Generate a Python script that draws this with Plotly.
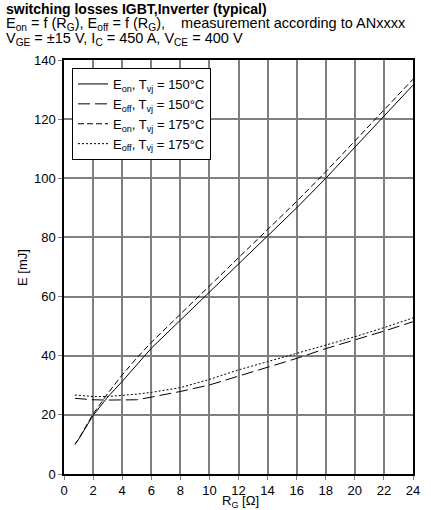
import plotly.graph_objects as go

# R_G in Ohm, E in mJ
rg_on = [0.75, 1, 2, 3, 4, 5, 6, 8, 10, 12, 14, 16, 18, 20, 22, 24]
eon_150 = [10, 11.7, 19.8, 26, 31.3, 37, 42.5, 52, 61.5, 71, 80.5, 90, 100, 110.5, 121, 131.5]
eon_175 = [10, 11.8, 20.3, 27.2, 33.5, 39.2, 44.5, 54, 63.5, 73, 82.5, 92.2, 102.2, 112.6, 123, 133.5]

rg_off = [0.75, 1, 2, 3, 4, 5, 6, 8, 10, 12, 14, 16, 18, 20, 22, 24]
eoff_150 = [25.6, 25.5, 25.1, 25, 25, 25.1, 26, 27.9, 30.1, 33.1, 36, 39.1, 42.4, 45.3, 48.3, 51.5]
eoff_175 = [26.7, 26.6, 26.2, 26.2, 26.5, 27, 27.6, 29.2, 32, 35.2, 38, 40.8, 43.6, 46.4, 49.5, 52.8]

names = ["E<sub>on</sub>, T<sub>vj</sub> = 150°C", "E<sub>off</sub>, T<sub>vj</sub> = 150°C",
         "E<sub>on</sub>, T<sub>vj</sub> = 175°C", "E<sub>off</sub>, T<sub>vj</sub> = 175°C"]

x_ticks = list(range(0, 25, 2))
y_ticks = list(range(0, 141, 20))

fig = go.Figure()
fig.add_trace(go.Scatter(x=rg_on, y=eon_150, mode="lines", name=names[0],
                         line=dict(color="black", width=1, dash="solid")))
fig.add_trace(go.Scatter(x=rg_off, y=eoff_150, mode="lines", name=names[1],
                         line=dict(color="black", width=1, dash="12px,5px")))
fig.add_trace(go.Scatter(x=rg_on, y=eon_175, mode="lines", name=names[2],
                         line=dict(color="black", width=1, dash="6px,3px")))
fig.add_trace(go.Scatter(x=rg_off, y=eoff_175, mode="lines", name=names[3],
                         line=dict(color="black", width=1, dash="2px,2px")))

L, R, T, B = 64, 18, 60, 36
pw, ph = 431 - L - R, 510 - T - B

def px(xp):
    return (xp - L) / pw

def py(yp):
    return (510 - B - yp) / ph

fam = "Liberation Sans, Arial, sans-serif"
axis_font = dict(family=fam, size=13, color="black")

fig.update_layout(
    template="none",
    width=431, height=510,
    margin=dict(l=L, r=R, t=T, b=B, pad=0),
    paper_bgcolor="white", plot_bgcolor="white",
    font=axis_font,
    showlegend=True,
    legend=dict(x=px(72), y=py(68), xanchor="left", yanchor="top",
                bgcolor="white", bordercolor="black", borderwidth=1,
                font=dict(size=13), tracegroupgap=0, itemwidth=30),
    xaxis=dict(range=[0, 24], tickvals=x_ticks, showgrid=True, gridcolor="#808080",
               gridwidth=2, showline=True, linecolor="black", linewidth=1.5,
               mirror=True, ticks="outside", ticklen=4, tickcolor="#808080",
               zeroline=False, tickfont=axis_font),
    yaxis=dict(range=[0, 140], tickvals=y_ticks, showgrid=True, gridcolor="#808080",
               gridwidth=2, showline=True, linecolor="black", linewidth=1.5,
               mirror=True, ticks="outside", ticklen=4, tickcolor="#808080",
               zeroline=False, tickfont=axis_font),
)

texts = [
    ("<b>switching losses IGBT,Inverter (typical)</b>", 9, 14),
    ("E<sub>on</sub> = f (R<sub>G</sub>), E<sub>off</sub> = f (R<sub>G</sub>),    measurement according to ANxxxx", 24, 14.5),
    ("V<sub>GE</sub> = ±15 V, I<sub>C</sub> = 450 A, V<sub>CE</sub> = 400 V", 39, 14.5),
]
for txt, ypix, size in texts:
    fig.add_annotation(text=txt, xref="paper", yref="paper", x=px(4), y=py(ypix),
                       xanchor="left", yanchor="middle", showarrow=False,
                       font=dict(family=fam, size=size, color="black"))

fig.add_annotation(text="E [mJ]", xref="paper", yref="paper", x=px(22), y=py(268),
                   xanchor="center", yanchor="middle", textangle=-90, showarrow=False,
                   font=axis_font)
fig.add_annotation(text="R<sub>G</sub> [Ω]", xref="paper", yref="paper", x=px(240), y=py(501),
                   xanchor="center", yanchor="middle", showarrow=False, font=axis_font)

fig.write_html("out.html", config={"displayModeBar": False},
               post_script="document.body.style.margin='0';")
